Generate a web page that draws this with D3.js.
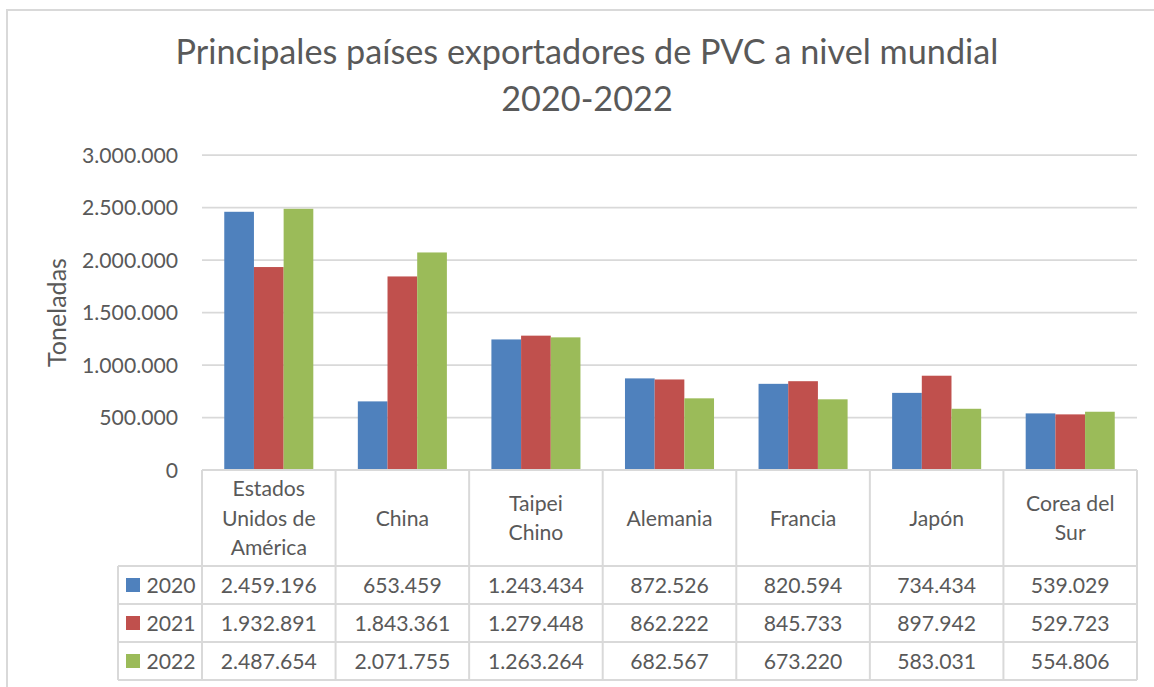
<!DOCTYPE html>
<html>
<head>
<meta charset="utf-8">
<script src="https://cdn.jsdelivr.net/npm/d3@7"></script>
<style>
  html, body { margin: 0; padding: 0; background: #fff; }
  text { font-family: Lato, "Open Sans", sans-serif; fill: #595959; }
</style>
</head>
<body>
<svg id="chart" width="1154" height="687"></svg>
<script>
// data
var paises = [
  ["Estados", "Unidos de", "América"],
  ["China"],
  ["Taipei", "Chino"],
  ["Alemania"],
  ["Francia"],
  ["Japón"],
  ["Corea del", "Sur"]
];
var anios = ["2020", "2021", "2022"];
var valores2020 = [2459196, 653459, 1243434, 872526, 820594, 734434, 539029];
var valores2021 = [1932891, 1843361, 1279448, 862222, 845733, 897942, 529723];
var valores2022 = [2487654, 2071755, 1263264, 682567, 673220, 583031, 554806];
var yTicks = [0, 500000, 1000000, 1500000, 2000000, 2500000, 3000000];
var titulo = ["Principales países exportadores de PVC a nivel mundial", "2020-2022"];
var ejeY = "Toneladas";

var series = [valores2020, valores2021, valores2022];
var colors = ["#4F81BD", "#C0504D", "#9BBB59"];
var gridColor = "#D9D9D9";

var svg = d3.select("#chart");

// Calibri is not installed, so size Lato so the widths come out like the picture
function fitSize(str, targetWidth) {
  var t = svg.append("text").attr("font-size", 100).text(str);
  var w = t.node().getComputedTextLength();
  t.remove();
  return 100 * targetWidth / w;
}
var fsTick = fitSize("3.000.000", 96);
var fsTitle = fitSize(titulo[0], 823);
var fsAxis = fitSize(ejeY, 109);

// frame of the chart area
svg.append("rect")
  .attr("x", 7).attr("y", 10)
  .attr("width", 1170).attr("height", 700)
  .attr("fill", "#fff")
  .attr("stroke", gridColor).attr("stroke-width", 2);

var plotLeft = 202, plotRight = 1137, plotTop = 155, plotBottom = 470;

var x = d3.scaleBand()
  .domain(d3.range(paises.length))
  .range([plotLeft, plotRight])
  .padding(0);

var gap = x.bandwidth() * 1.5 / 4.5; // excel gap width 150%
var xs = d3.scaleBand()
  .domain(d3.range(anios.length))
  .range([gap / 2, x.bandwidth() - gap / 2])
  .padding(0);

var y = d3.scaleLinear().domain([0, 3000000]).range([plotBottom, plotTop]);

var fmt = function (v) {
  return d3.format(",")(v).replace(/,/g, ".");
};

// title
svg.append("text")
  .attr("text-anchor", "middle")
  .attr("font-size", fsTitle)
  .selectAll("tspan")
  .data(titulo)
  .join("tspan")
  .attr("x", 587)
  .attr("y", function (d, i) { return 63.5 + i * 47; })
  .text(function (d) { return d; });

// gridlines
svg.append("g")
  .selectAll("line")
  .data(yTicks.filter(function (d) { return d > 0; }))
  .join("line")
  .attr("x1", plotLeft).attr("x2", plotRight)
  .attr("y1", function (d) { return y(d); })
  .attr("y2", function (d) { return y(d); })
  .attr("stroke", gridColor).attr("stroke-width", 1.75);

// y axis labels
svg.append("g")
  .selectAll("text")
  .data(yTicks)
  .join("text")
  .attr("x", 178)
  .attr("y", function (d) { return y(d); })
  .attr("dy", "0.36em")
  .attr("text-anchor", "end")
  .attr("font-size", fsTick)
  .text(function (d) { return fmt(d); });

svg.append("text")
  .attr("transform", "translate(65.5,312.5) rotate(-90)")
  .attr("text-anchor", "middle")
  .attr("font-size", fsAxis)
  .text(ejeY);

// bars
var groups = svg.append("g")
  .selectAll("g")
  .data(series)
  .join("g")
  .attr("fill", function (d, i) { return colors[i]; });

groups.each(function (vals, si) {
  d3.select(this).selectAll("rect")
    .data(vals)
    .join("rect")
    .attr("x", function (d, ci) { return x(ci) + xs(si); })
    .attr("width", xs.bandwidth())
    .attr("y", function (d) { return y(d); })
    .attr("height", function (d) { return y(0) - y(d); });
});

// data table
var headTop = plotBottom, headBottom = 566, rowH = 38;
var legendLeft = 118;
var table = svg.append("g");
var tableBottom = headBottom + rowH * anios.length;

var lineStyle = function (sel) {
  return sel.attr("stroke", gridColor).attr("stroke-width", 2).attr("fill", "none");
};

// horizontal rules
table.append("line").call(lineStyle)
  .attr("x1", plotLeft).attr("x2", plotRight)
  .attr("y1", headTop).attr("y2", headTop);
table.selectAll("line.h")
  .data(d3.range(anios.length + 1))
  .join("line").attr("class", "h").call(lineStyle)
  .attr("x1", legendLeft).attr("x2", plotRight)
  .attr("y1", function (d) { return headBottom + d * rowH; })
  .attr("y2", function (d) { return headBottom + d * rowH; });

// vertical rules
table.append("line").call(lineStyle)
  .attr("x1", legendLeft).attr("x2", legendLeft)
  .attr("y1", headBottom).attr("y2", tableBottom);
table.selectAll("line.v")
  .data(d3.range(paises.length + 1))
  .join("line").attr("class", "v").call(lineStyle)
  .attr("x1", function (d) { return plotLeft + d * x.bandwidth(); })
  .attr("x2", function (d) { return plotLeft + d * x.bandwidth(); })
  .attr("y1", headTop).attr("y2", tableBottom);

// category headers
var lineGap = 29.5;
var headMid = (headTop + headBottom) / 2 + 7.5;
table.selectAll("text.cat")
  .data(paises)
  .join("text").attr("class", "cat")
  .attr("text-anchor", "middle")
  .attr("font-size", fsTick)
  .each(function (lines, ci) {
    d3.select(this).selectAll("tspan")
      .data(lines)
      .join("tspan")
      .attr("x", x(ci) + x.bandwidth() / 2)
      .attr("y", function (d, li) {
        return headMid + (li - (lines.length - 1) / 2) * lineGap;
      })
      .text(function (d) { return d; });
  });

// legend keys + values
anios.forEach(function (anio, si) {
  var cy = headBottom + si * rowH + rowH / 2;
  table.append("rect")
    .attr("x", 126).attr("y", cy - 7)
    .attr("width", 14).attr("height", 14)
    .attr("fill", colors[si]);
  table.append("text")
    .attr("x", 146.5).attr("y", cy)
    .attr("dy", "0.36em")
    .attr("font-size", fsTick)
    .text(anio);
  table.append("g")
    .selectAll("text")
    .data(series[si])
    .join("text")
    .attr("x", function (d, ci) { return x(ci) + x.bandwidth() / 2; })
    .attr("y", cy)
    .attr("dy", "0.36em")
    .attr("text-anchor", "middle")
    .attr("font-size", fsTick)
    .text(function (d) { return fmt(d); });
});
</script>
</body>
</html>
